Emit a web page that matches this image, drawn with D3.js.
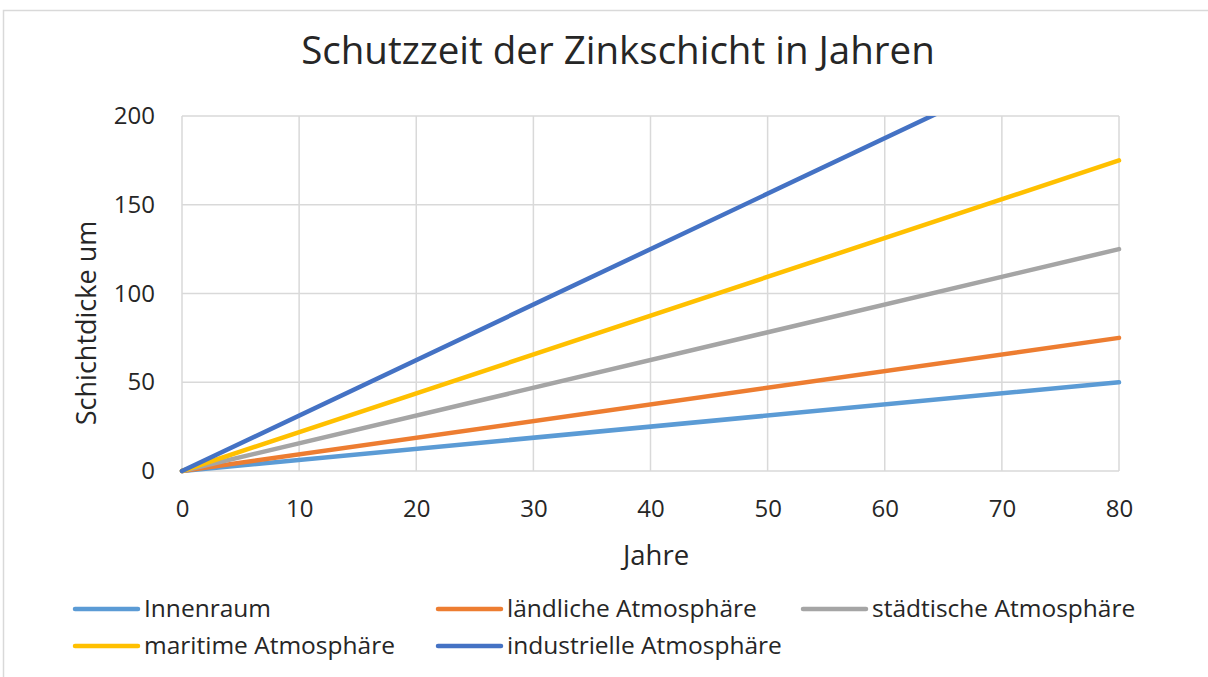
<!DOCTYPE html>
<html><head><meta charset="utf-8">
<script src="https://cdn.jsdelivr.net/npm/d3@7"></script>
<style>body{margin:0;background:#fff;} text{font-family:"Open Sans",Lato,sans-serif;fill:#262626;}</style>
</head><body>
<svg id="c" width="1208" height="677"></svg>
<script>
const years = [0, 80];
const seriesNames = ["Innenraum","ländliche Atmosphäre","städtische Atmosphäre","maritime Atmosphäre","industrielle Atmosphäre"];
const innenraum = [0, 50];
const laendlich = [0, 75];
const staedtisch = [0, 125];
const maritim = [0, 175];
const industriell = [0, 250];
const seriesValues = [innenraum, laendlich, staedtisch, maritim, industriell];
const colors = ["#5B9BD5","#ED7D31","#A5A5A5","#FFC000","#4472C4"];
const xTicks = [0,10,20,30,40,50,60,70,80];
const yTicks = [0,50,100,150,200];
const FONT = "'Open Sans',Lato,sans-serif";

const svg = d3.select("#c");
svg.append("path").attr("d","M3.5,677 V10.5 H1208").attr("fill","none").attr("stroke","#d9d9d9").attr("stroke-width",1.5);

const x = d3.scaleLinear().domain([0,80]).range([182,1119]);
const y = d3.scaleLinear().domain([0,200]).range([471,116]);

const g = svg.append("g");
g.selectAll(".vg").data(xTicks).enter().append("line")
 .attr("x1",d=>x(d)).attr("x2",d=>x(d)).attr("y1",y(200)).attr("y2",y(0))
 .attr("stroke","#d9d9d9").attr("stroke-width",1.5);
g.selectAll(".hg").data(yTicks).enter().append("line")
 .attr("x1",x(0)).attr("x2",x(80)).attr("y1",d=>y(d)).attr("y2",d=>y(d))
 .attr("stroke","#d9d9d9").attr("stroke-width",1.5);

const xAxis = svg.append("g").attr("transform",`translate(0,${y(0)})`)
 .call(d3.axisBottom(x).tickValues(xTicks).tickSize(0).tickPadding(29));
xAxis.select(".domain").remove();
xAxis.selectAll("text").attr("font-size",24).attr("fill","#262626").style("font-family",FONT);
const yAxis = svg.append("g").attr("transform",`translate(${x(0)},0)`)
 .call(d3.axisLeft(y).tickValues(yTicks).tickSize(0).tickPadding(27));
yAxis.select(".domain").remove();
yAxis.selectAll("text").attr("font-size",24).attr("fill","#262626").style("font-family",FONT);

svg.append("clipPath").attr("id","clip").append("rect")
 .attr("x",x(0)-5).attr("y",y(200)).attr("width",x(80)-x(0)+10).attr("height",y(0)-y(200)+5);

const line = d3.line().x((d,i)=>x(years[i])).y(d=>y(d));
const lg = svg.append("g").attr("clip-path","url(#clip)");
seriesValues.forEach((vals,i)=>{
  lg.append("path").attr("d",line(vals)).attr("fill","none")
   .attr("stroke",colors[i]).attr("stroke-width",4.5).attr("stroke-linecap","round");
});

svg.append("text").attr("x",618).attr("y",64).attr("text-anchor","middle")
 .attr("font-size",38.5).text("Schutzzeit der Zinkschicht in Jahren");
svg.append("text").attr("x",656).attr("y",565).attr("text-anchor","middle")
 .attr("font-size",27.5).text("Jahre");
svg.append("text").attr("transform","translate(96,323) rotate(-90)").attr("text-anchor","middle")
 .attr("font-size",27).text("Schichtdicke um");

const legendPos = [[75,609],[438,609],[803,609],[75,646],[438,646]];
seriesNames.forEach((n,i)=>{
  const [lx,ly] = legendPos[i];
  svg.append("line").attr("x1",lx).attr("x2",lx+63).attr("y1",ly).attr("y2",ly)
   .attr("stroke",colors[i]).attr("stroke-width",4.5).attr("stroke-linecap","round");
  svg.append("text").attr("x",lx+69).attr("y",ly+8).attr("font-size",24.5).text(n);
});
</script>
</body></html>
